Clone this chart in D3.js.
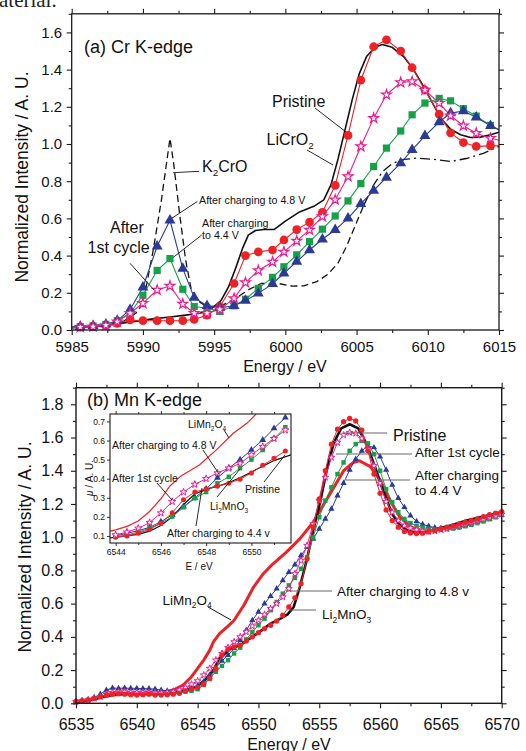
<!DOCTYPE html>
<html><head><meta charset="utf-8">
<script src="https://cdn.jsdelivr.net/npm/d3@7/dist/d3.min.js"></script>
<style>
html,body{margin:0;padding:0;background:#fff;}
svg{display:block;font-family:Arial,"Liberation Sans",Helvetica,sans-serif;}
</style></head><body>
<svg id="chart" width="526" height="751"></svg>
<script>
// ================= (a) Cr K-edge =================
const crEnergy = [5984.7, 5985.6, 5986.5, 5987.4, 5988.2, 5989.1, 5990.0, 5991.0, 5991.9, 5992.8, 5993.6, 5994.5, 5995.4, 5996.4, 5997.2, 5998.1, 5999.1, 5999.9, 6000.8, 6001.7, 6002.6, 6003.5, 6004.4, 6005.3, 6006.2, 6007.1, 6008.1, 6008.9, 6009.8, 6010.8, 6011.6, 6012.5, 6013.4, 6014.4, 6015.3];
const crPristine = [0.012, 0.015, 0.018, 0.025, 0.036, 0.054, 0.05, 0.05, 0.05, 0.05, 0.057, 0.08, 0.126, 0.25, 0.40, 0.42, 0.43, 0.484, 0.54, 0.58, 0.633, 0.778, 1.046, 1.343, 1.523, 1.56, 1.50, 1.41, 1.29, 1.16, 1.06, 1.008, 0.987, 0.99, 0.99];
const crFirstCycle = [0.012, 0.015, 0.018, 0.025, 0.045, 0.09, 0.144, 0.215, 0.237, 0.14, 0.09, 0.09, 0.11, 0.17, 0.255, 0.32, 0.366, 0.42, 0.479, 0.538, 0.61, 0.70, 0.825, 0.987, 1.139, 1.265, 1.331, 1.336, 1.29, 1.22, 1.152, 1.098, 1.058, 1.031, 1.015];
const crCharged44 = [0.015, 0.018, 0.022, 0.03, 0.05, 0.09, 0.187, 0.32, 0.384, 0.219, 0.126, 0.117, 0.10, 0.13, 0.165, 0.224, 0.283, 0.34, 0.404, 0.475, 0.542, 0.613, 0.694, 0.787, 0.879, 0.978, 1.07, 1.157, 1.22, 1.245, 1.232, 1.19, 1.15, 1.10, 1.065];
const crCharged48 = [0.015, 0.018, 0.022, 0.03, 0.05, 0.11, 0.23, 0.45, 0.59, 0.33, 0.174, 0.13, 0.12, 0.13, 0.158, 0.197, 0.248, 0.305, 0.368, 0.43, 0.488, 0.538, 0.60, 0.678, 0.75, 0.82, 0.897, 0.969, 1.044, 1.118, 1.166, 1.177, 1.144, 1.098, 1.065];
const crLiCrO2Energy = [5984.7, 5987, 5989.3, 5990.7, 5991.9, 5993, 5994, 5994.9, 5995.5, 5996, 5996.5, 5997, 5997.4, 5997.9, 5998.5, 5999.2, 6000, 6001, 6002, 6002.7, 6003.2, 6003.7, 6004.2, 6004.7, 6005.2, 6005.7, 6006.3, 6006.8, 6007.5, 6008.3, 6009, 6009.7, 6010.4, 6011, 6011.6, 6012.3, 6013, 6013.7, 6014.4, 6015.3];
const crLiCrO2 = [0.012, 0.02, 0.045, 0.06, 0.07, 0.08, 0.09, 0.12, 0.16, 0.23, 0.33, 0.44, 0.51, 0.535, 0.54, 0.54, 0.585, 0.635, 0.665, 0.70, 0.78, 0.92, 1.08, 1.24, 1.38, 1.47, 1.52, 1.535, 1.52, 1.47, 1.40, 1.31, 1.21, 1.13, 1.08, 1.05, 1.035, 1.037, 1.05, 1.07];
const crK2CrO4Energy = [5984.7, 5987, 5988.5, 5989.5, 5990.0, 5990.4, 5990.75, 5991.3, 5991.9, 5992.15, 5992.6, 5993.0, 5993.4, 5994.0, 5994.5, 5995.5, 5996.5, 5997.5, 5998.3, 5999.5, 6000.5, 6001.3, 6002.2, 6003, 6003.7, 6004.3, 6004.9, 6005.5, 6006.2, 6006.8, 6007.5, 6008.3, 6009.2, 6010.4, 6011.6, 6012.7, 6013.9, 6015];
const crK2CrO4 = [0.012, 0.02, 0.04, 0.09, 0.14, 0.30, 0.44, 0.70, 1.03, 0.90, 0.61, 0.376, 0.215, 0.15, 0.125, 0.13, 0.17, 0.22, 0.25, 0.25, 0.236, 0.237, 0.26, 0.30, 0.36, 0.45, 0.56, 0.67, 0.78, 0.85, 0.895, 0.917, 0.924, 0.918, 0.906, 0.922, 0.95, 0.987];
const crXTicks = [5985, 5990, 5995, 6000, 6005, 6010, 6015];
const crXMinor = [5987.5, 5992.5, 5997.5, 6002.5, 6007.5, 6012.5];
const crYTicks = [0, 0.2, 0.4, 0.6, 0.8, 1.0, 1.2, 1.4, 1.6];
const crYMinor = [0.1, 0.3, 0.5, 0.7, 0.9, 1.1, 1.3, 1.5, 1.7];

// ================= (b) Mn K-edge =================
const mnEnergy = [6535,6535.5,6536,6536.5,6537,6537.5,6538,6538.5,6539,6539.5,6540,6540.5,6541,6541.5,6542,6542.5,6543,6543.5,6544,6544.5,6545,6545.5,6546,6546.5,6547,6547.5,6548,6548.5,6549,6549.5,6550,6550.5,6551,6551.5,6552,6552.5,6553,6553.5,6554,6554.5,6555,6555.5,6556,6556.5,6557,6557.5,6558,6558.5,6559,6559.5,6560,6560.5,6561,6561.5,6562,6562.5,6563,6563.5,6564,6564.5,6565,6565.5,6566,6566.5,6567,6567.5,6568,6568.5,6569,6569.5,6570];
const mnPristine = [0.01,0.015,0.02,0.03,0.04,0.05,0.055,0.058,0.055,0.052,
  0.05,0.052,0.055,0.05,0.05,0.052,0.055,0.06,0.075,0.085,
  0.095,0.115,0.15,0.21,0.29,0.325,0.34,0.35,0.375,0.40,
  0.425,0.45,0.47,0.495,0.53,0.58,0.635,0.72,0.87,1.06,
  1.23,1.40,1.56,1.65,1.695,1.715,1.70,1.645,1.52,1.38,
  1.264,1.164,1.10,1.06,1.035,1.025,1.022,1.024,1.032,1.04,
  1.05,1.06,1.068,1.08,1.09,1.10,1.11,1.124,1.135,1.145,1.154];
const mnFirstCycle = [0.01,0.015,0.02,0.03,0.04,0.055,0.065,0.068,0.068,0.066,
  0.065,0.065,0.065,0.063,0.063,0.065,0.07,0.08,0.095,0.115,
  0.135,0.17,0.21,0.26,0.30,0.335,0.37,0.40,0.43,0.465,
  0.50,0.535,0.57,0.60,0.64,0.69,0.78,0.86,0.95,1.08,
  1.22,1.36,1.48,1.57,1.615,1.63,1.625,1.595,1.53,1.43,
  1.325,1.214,1.15,1.10,1.07,1.055,1.045,1.037,1.035,1.038,
  1.045,1.052,1.06,1.07,1.08,1.09,1.10,1.108,1.118,1.128,1.138];
const mnCharged44 = [0.01,0.015,0.02,0.03,0.04,0.05,0.06,0.062,0.062,0.06,
  0.06,0.06,0.06,0.058,0.058,0.06,0.062,0.065,0.07,0.075,
  0.085,0.11,0.15,0.19,0.225,0.26,0.30,0.335,0.385,0.43,
  0.47,0.51,0.56,0.61,0.66,0.71,0.755,0.81,0.88,1.0,
  1.12,1.22,1.30,1.38,1.45,1.52,1.56,1.58,1.565,1.50,
  1.40,1.29,1.21,1.15,1.11,1.085,1.068,1.058,1.05,1.045,
  1.045,1.048,1.052,1.058,1.066,1.075,1.085,1.095,1.108,1.12,1.135];
const mnCharged48 = [0.01,0.015,0.02,0.035,0.055,0.08,0.092,0.09,0.092,0.09,
  0.09,0.088,0.088,0.085,0.08,0.075,0.075,0.078,0.085,0.095,
  0.105,0.13,0.17,0.215,0.255,0.29,0.33,0.38,0.44,0.50,
  0.55,0.60,0.645,0.69,0.74,0.79,0.835,0.89,0.94,0.99,
  1.05,1.11,1.17,1.25,1.325,1.405,1.47,1.52,1.55,1.54,
  1.485,1.405,1.314,1.235,1.18,1.13,1.095,1.077,1.066,1.058,
  1.054,1.054,1.055,1.06,1.07,1.08,1.09,1.102,1.112,1.122,1.132];
const mnLi2MnO3Energy = [6535,6536,6537,6537.8,6538.6,6540,6541,6542.5,6543.8,6544.9,6545.6,6546.3,6546.8,6547.7,6548.5,6549.3,6550.1,6551,6551.8,6552.4,6552.9,6553.4,6554,6554.5,6555.1,6555.6,6556.2,6556.8,6557.5,6558.2,6558.9,6559.6,6560.3,6561,6561.6,6562.3,6563,6563.7,6564.4,6565.8,6567.1,6568.5,6570];
const mnLi2MnO3 = [0.01,0.015,0.035,0.05,0.058,0.058,0.055,0.06,0.075,0.1,0.14,0.2,0.27,0.33,0.35,0.39,0.43,0.48,0.51,0.535,0.58,0.70,0.87,1.04,1.22,1.40,1.57,1.655,1.68,1.655,1.56,1.42,1.27,1.14,1.075,1.04,1.027,1.03,1.045,1.07,1.1,1.125,1.15];
const mnLiMn2O4Energy = [6535,6536,6537,6538,6539,6540,6541,6542,6543,6543.8,6544.5,6545,6545.5,6546,6546.3,6546.8,6547.5,6548,6548.8,6549.6,6550.4,6551.2,6552.3,6553.4,6554.5,6555.3,6556.2,6557,6557.8,6558.3,6559.2,6560,6560.8,6561.6,6562.5,6563.3,6564.5,6566,6567.5,6570];
const mnLiMn2O4 = [0.01,0.02,0.035,0.05,0.055,0.055,0.06,0.065,0.08,0.11,0.16,0.21,0.26,0.32,0.37,0.42,0.465,0.50,0.59,0.70,0.78,0.84,0.91,0.99,1.09,1.19,1.30,1.40,1.45,1.46,1.425,1.345,1.224,1.124,1.064,1.035,1.04,1.065,1.095,1.15];
const mnXTicks = [6535, 6540, 6545, 6550, 6555, 6560, 6565, 6570];
const mnXMinor = [6537.5, 6542.5, 6547.5, 6552.5, 6557.5, 6562.5, 6567.5];
const mnYTicks = [0, 0.2, 0.4, 0.6, 0.8, 1.0, 1.2, 1.4, 1.6, 1.8];
const mnYMinor = [0.1, 0.3, 0.5, 0.7, 0.9, 1.1, 1.3, 1.5, 1.7, 1.9];

// ================= inset (μ) =================
const inEnergy = [6544,6544.5,6545,6545.5,6546,6546.5,6547,6547.5,6548,6548.5,6549,6549.5,6550,6550.5,6551,6551.5];
const inFirstCycle = [0.105,0.12,0.14,0.17,0.22,0.28,0.33,0.37,0.40,0.43,0.455,0.48,0.525,0.568,0.61,0.655];
const inCharged48 = [0.10,0.114,0.128,0.145,0.175,0.21,0.254,0.30,0.347,0.405,0.455,0.50,0.551,0.603,0.664,0.72];
const inCharged44 = [0.096,0.105,0.12,0.14,0.166,0.201,0.25,0.297,0.33,0.376,0.41,0.455,0.50,0.55,0.61,0.67];
const inPristine = [0.093,0.10,0.114,0.135,0.166,0.222,0.29,0.33,0.347,0.36,0.376,0.397,0.43,0.47,0.507,0.545];
const inLiMn2O4Energy = [6543.75,6544,6544.5,6545,6545.5,6546,6546.4,6546.85,6547.7,6548.45,6549.2,6549.8,6550.3];
const inLiMn2O4 = [0.125,0.132,0.15,0.178,0.228,0.295,0.362,0.411,0.472,0.551,0.638,0.69,0.75];
const inLi2MnO3Energy = [6543.75,6544,6545,6545.5,6546,6546.5,6547,6547.5,6548,6548.5,6549,6549.5,6550,6550.5,6551,6551.75];
const inLi2MnO3 = [0.09,0.093,0.108,0.125,0.155,0.2,0.265,0.32,0.345,0.36,0.38,0.405,0.435,0.465,0.495,0.525];
const inXTicks = [6544, 6546, 6548, 6550];
const inXMinor = [6545, 6547, 6549, 6551];
const inYTicks = [0.1, 0.2, 0.3, 0.4, 0.5, 0.6, 0.7];

// ================= helpers =================
const RED = "#ec2227", PINK = "#ec1c8c", GREEN = "#17a04a", BLUE = "#2b3a94";
const svg = d3.select("#chart");
const pts = (xs, ys) => xs.map((e, i) => ({e, v: ys[i]}));
let clipN = 0;
function makeClip(x, y) {
  const id = "clip" + (clipN++);
  const [x0, x1] = x.range(), [y0, y1] = y.range();
  svg.append("clipPath").attr("id", id).append("rect")
    .attr("x", x0).attr("y", y1).attr("width", x1 - x0).attr("height", y0 - y1);
  return `url(#${id})`;
}
function axes(g, x, y, o) {
  const [x0, x1] = x.range(), [y0, y1] = y.range();
  const add = (axis, tr) => {
    const a = g.append("g").attr("transform", tr).call(axis);
    a.select(".domain").remove();
    a.attr("font-family", null).attr("font-size", null);
    a.selectAll(".tick line").attr("stroke", "#1a1a1a").attr("stroke-width", o.tw);
    a.selectAll(".tick text").attr("font-size", o.fs).attr("fill", "#111");
    return a;
  };
  add(d3.axisBottom(x).tickValues(o.xMajor).tickSize(o.major).tickPadding(o.xPad).tickFormat(d3.format("d")), `translate(0,${y0})`);
  add(d3.axisBottom(x).tickValues(o.xMinor).tickSize(o.minor).tickFormat(""), `translate(0,${y0})`);
  add(d3.axisTop(x).tickValues(o.xMajor).tickSize(o.major).tickFormat(""), `translate(0,${y1})`);
  add(d3.axisTop(x).tickValues(o.xMinor).tickSize(o.minor).tickFormat(""), `translate(0,${y1})`);
  add(d3.axisLeft(y).tickValues(o.yMajor).tickSize(o.major).tickPadding(o.yPad).tickFormat(d3.format(".1f")), `translate(${x0},0)`);
  if (o.yMinor) add(d3.axisLeft(y).tickValues(o.yMinor).tickSize(o.minor).tickFormat(""), `translate(${x0},0)`);
  if (o.right) {
    add(d3.axisRight(y).tickValues(o.yMajor).tickSize(o.major).tickFormat(""), `translate(${x1},0)`);
    if (o.yMinor) add(d3.axisRight(y).tickValues(o.yMinor).tickSize(o.minor).tickFormat(""), `translate(${x1},0)`);
  }
  g.append("rect").attr("x", x0).attr("y", y1).attr("width", x1 - x0).attr("height", y0 - y1)
    .attr("fill", "none").attr("stroke", "#1a1a1a").attr("stroke-width", o.fw);
}
function line(g, x, y, data, o) {
  g.append("path").datum(data)
    .attr("d", d3.line().x(d => x(d.e)).y(d => y(d.v)))
    .attr("fill", "none").attr("stroke", o.color).attr("stroke-width", o.lw)
    .attr("stroke-dasharray", o.dash || null).attr("stroke-linejoin", "round")
    .attr("clip-path", o.clip);
}
function markers(g, x, y, data, o) {
  g.append("g").selectAll("path").data(data.filter(o.keep || (() => true))).join("path")
    .attr("transform", d => `translate(${x(d.e)},${y(d.v)})`)
    .attr("d", d3.symbol().type(o.type).size(o.size))
    .attr("fill", o.fill).attr("stroke", o.stroke || "none").attr("stroke-width", o.sw || 0);
}
function label(g, x, y, parts, fs, o = {}) {
  const t = g.append("text").attr("x", x).attr("y", y).attr("font-size", fs).attr("fill", o.fill || "#111");
  if (o.anchor) t.attr("text-anchor", o.anchor);
  if (o.transform) t.attr("transform", o.transform);
  let shifted = false;
  parts.forEach(p => {
    const sub = typeof p === "object";
    const s = t.append("tspan").text(sub ? (p.sub || p.it) : p);
    if (sub && p.sub) { s.attr("font-size", fs * 0.62).attr("dy", fs * 0.28); shifted = true; }
    else {
      if (p.it) s.attr("font-style", "italic");
      if (shifted) { s.attr("dy", -fs * 0.28); shifted = false; }
    }
  });
  return t;
}
function leader(g, x1, y1, x2, y2, color, w) {
  g.append("line").attr("x1", x1).attr("y1", y1).attr("x2", x2).attr("y2", y2)
    .attr("stroke", color || "#111").attr("stroke-width", w || 0.9);
}

// stray caption fragment at the very top
svg.append("text").attr("x", -1).attr("y", 7).attr("font-family", "'Liberation Serif','Times New Roman',serif")
  .attr("font-size", 21).attr("fill", "#222").text("aterial.");

// ================= panel (a) =================
{
  const g = svg.append("g");
  const x = d3.scaleLinear().domain([5985, 6015]).range([71.7, 499]);
  const y = d3.scaleLinear().domain([0, 1.7]).range([330, 13.8]);
  const clip = makeClip(x, y);
  const inX = d => d.e >= 5985 && d.e <= 6015;
  const k2 = pts(crK2CrO4Energy, crK2CrO4);
  line(g, x, y, k2.filter(d => d.e <= 6005.5), {color: "#111", lw: 1.3, dash: "7,4", clip});
  line(g, x, y, k2.filter(d => d.e >= 6005.5), {color: "#111", lw: 1.3, dash: "10,4,2,4", clip});
  line(g, x, y, pts(crLiCrO2Energy, crLiCrO2), {color: "#111", lw: 1.6, clip});
  const sets = [
    {d: crPristine, color: RED, type: d3.symbolCircle, size: 60, fill: RED},
    {d: crCharged44, color: GREEN, type: d3.symbolSquare, size: 52, fill: GREEN},
    {d: crCharged48, color: BLUE, type: d3.symbolTriangle, size: 52, fill: BLUE},
    {d: crFirstCycle, color: PINK, type: d3.symbolStar, size: 30, fill: "#fff", stroke: PINK, sw: 1.2}
  ];
  sets.forEach(s => line(g, x, y, pts(crEnergy, s.d), {color: s.color, lw: 1.1, clip}));
  sets.forEach(s => markers(g, x, y, pts(crEnergy, s.d), {...s, keep: inX}));
  axes(g, x, y, {xMajor: crXTicks, xMinor: crXMinor, yMajor: crYTicks, yMinor: crYMinor,
    major: 5, minor: 3, xPad: 6, yPad: 4.5, fs: 15, tw: 1.1, fw: 1.3, right: true});

  label(g, 84, 52.5, ["(a) Cr K-edge"], 18);
  label(g, 272, 107, ["Pristine"], 16);
  leader(g, 315, 108, 346, 132);
  label(g, 266.5, 145, ["LiCrO", {sub: "2"}], 16);
  leader(g, 307, 150, 333, 165);
  label(g, 202, 172, ["K", {sub: "2"}, "CrO"], 16);
  leader(g, 173, 172.7, 199, 171.3);
  label(g, 199, 204, ["After charging to 4.8 V"], 10.7);
  leader(g, 171.7, 218.3, 197.3, 201.5);
  label(g, 202, 227, ["After charging"], 10.7);
  label(g, 202, 238.5, ["to 4.4 V"], 10.7);
  leader(g, 173.3, 257.3, 201.7, 235);
  label(g, 110, 233, ["After"], 16);
  label(g, 87.5, 252.5, ["1st cycle"], 16);
  leader(g, 130, 263.3, 154, 290);
  label(g, 285, 372, ["Energy / eV"], 16, {anchor: "middle"});
  label(g, 0, 0, ["Normalized Intensity / A. U."], 17.5, {anchor: "middle", transform: "translate(28,177) rotate(-90)"});
}

// ================= panel (b) =================
{
  const g = svg.append("g");
  const x = d3.scaleLinear().domain([6535, 6570]).range([76, 501.7]);
  const y = d3.scaleLinear().domain([0, 1.9]).range([703.3, 387.7]);
  const clip = makeClip(x, y);
  line(g, x, y, pts(mnLiMn2O4Energy, mnLiMn2O4), {color: RED, lw: 3, clip});
  line(g, x, y, pts(mnLi2MnO3Energy, mnLi2MnO3), {color: "#111", lw: 2.6, clip});
  const sets = [
    {d: mnCharged48, color: BLUE, type: d3.symbolTriangle, size: 17, fill: BLUE},
    {d: mnCharged44, color: GREEN, type: d3.symbolSquare, size: 20, fill: GREEN},
    {d: mnFirstCycle, color: PINK, type: d3.symbolStar, size: 14, fill: "#fff", stroke: PINK, sw: 1},
    {d: mnPristine, color: RED, type: d3.symbolCircle, size: 22, fill: RED}
  ];
  sets.forEach(s => { line(g, x, y, pts(mnEnergy, s.d), {color: s.color, lw: 1, clip});
                      markers(g, x, y, pts(mnEnergy, s.d), s); });
  axes(g, x, y, {xMajor: mnXTicks, xMinor: mnXMinor, yMajor: mnYTicks, yMinor: mnYMinor,
    major: 5, minor: 3, xPad: 10, yPad: 7.5, fs: 16, tw: 1.1, fw: 1.4, right: true});

  label(g, 87, 406, ["(b) Mn K-edge"], 18);
  label(g, 393, 441, ["Pristine"], 16);
  leader(g, 343, 433, 387, 433, "#666", 1);
  label(g, 415, 457, ["After 1st cycle"], 13.5);
  leader(g, 336, 454, 412, 454, "#666", 1);
  label(g, 415, 479.5, ["After charging"], 13.5);
  label(g, 415, 495, ["to 4.4 V"], 13.5);
  leader(g, 346, 480, 410, 480, "#666", 1);
  label(g, 337, 596, ["After charging to 4.8 v"], 13.5);
  leader(g, 286, 591, 332, 591, "#666", 1);
  label(g, 322, 619, ["Li", {sub: "2"}, "MnO", {sub: "3"}], 13.5);
  leader(g, 289, 610, 316, 610, "#666", 1);
  label(g, 162.5, 604.5, ["LiMn", {sub: "2"}, "O", {sub: "4"}], 13.5);
  leader(g, 208, 607, 231, 620, "#111", 1);
  label(g, 289, 750, ["Energy / eV"], 16, {anchor: "middle"});
  label(g, 0, 0, ["Normalized Intensity / A. U."], 17.5, {anchor: "middle", transform: "translate(31,547) rotate(-90)"});

  // ---------- inset ----------
  const gi = svg.append("g");
  const xi = d3.scaleLinear().domain([6543.75, 6551.75]).range([110, 291]);
  const yi = d3.scaleLinear().domain([0.063, 0.739]).range([543, 414]);
  gi.append("rect").attr("x", 110).attr("y", 414).attr("width", 181).attr("height", 129).attr("fill", "#fff");
  const clipI = makeClip(xi, yi);
  line(gi, xi, yi, pts(inLiMn2O4Energy, inLiMn2O4), {color: RED, lw: 1.2, clip: clipI});
  line(gi, xi, yi, pts(inLi2MnO3Energy, inLi2MnO3), {color: "#111", lw: 1.2, clip: clipI});
  const iset = [
    {d: inCharged48, color: BLUE, type: d3.symbolTriangle, size: 20, fill: BLUE},
    {d: inCharged44, color: GREEN, type: d3.symbolSquare, size: 20, fill: GREEN},
    {d: inPristine, color: RED, type: d3.symbolCircle, size: 20, fill: RED},
    {d: inFirstCycle, color: PINK, type: d3.symbolStar, size: 16, fill: "#fff", stroke: PINK, sw: 1}
  ];
  iset.forEach(s => { line(gi, xi, yi, pts(inEnergy, s.d), {color: s.color, lw: 1, clip: clipI});
                      markers(gi, xi, yi, pts(inEnergy, s.d), s); });
  axes(gi, xi, yi, {xMajor: inXTicks, xMinor: inXMinor, yMajor: inYTicks, yMinor: null,
    major: 3, minor: 2, xPad: 3, yPad: 2, fs: 8.5, tw: 0.9, fw: 1.1, right: false});
  gi.selectAll("g").filter(function(){ return true; });
  label(gi, 199, 570, ["E / eV"], 10, {anchor: "middle"});
  label(gi, 0, 0, [{it: "\u03bc"}, " / A. U."], 10, {anchor: "middle", transform: "translate(93,478) rotate(-90)"});
  label(gi, 188, 428, ["LiMn", {sub: "2"}, "O", {sub: "4"}], 10.5);
  leader(gi, 224, 430, 229, 438);
  label(gi, 112, 448.5, ["After charging to 4.8 V"], 10.5);
  leader(gi, 203, 450, 219, 474);
  label(gi, 112, 482, ["After 1st cycle"], 10.5);
  leader(gi, 157, 483, 172, 500);
  label(gi, 245, 493, ["Pristine"], 10.5);
  leader(gi, 264, 482, 285, 455);
  label(gi, 210, 510, ["Li", {sub: "2"}, "MnO", {sub: "3"}], 10.5);
  leader(gi, 217, 497, 240, 469);
  label(gi, 167, 537, ["After charging to 4.4 v"], 10.5);
  leader(gi, 196, 526, 202, 488);
}
</script></body></html>
